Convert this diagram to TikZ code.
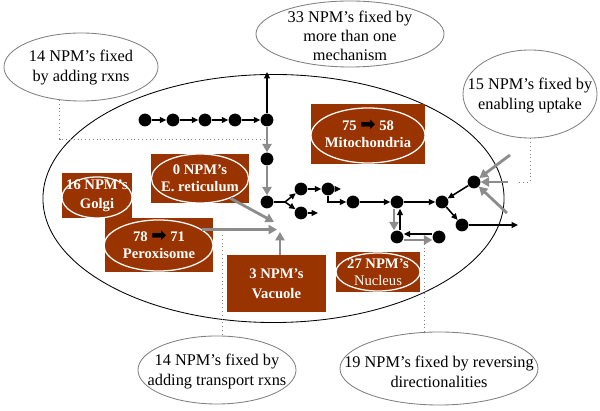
\documentclass[tikz,border=0pt]{standalone}
\usepackage{fontspec}
\setmainfont{Liberation Serif}
\newfontfamily\arrowfont{DejaVu Sans}
\usetikzlibrary{shapes.geometric,arrows.meta}
\definecolor{organelle}{RGB}{153,51,0}
\definecolor{feedgray}{RGB}{140,140,140}
\definecolor{linegray}{RGB}{128,128,128}
\newcommand{\goesto}{{\arrowfont\fontsize{13}{12}\selectfont\color{black}➡}}

\begin{document}
\begin{tikzpicture}[x=0.025cm,y=-0.025cm,
    dot/.style={circle,fill=black,inner sep=0pt,minimum size=0.32cm},
    flow/.style={-{Triangle[length=4.5pt,width=4pt]},line width=1.1pt},
    feed/.style={-{Triangle[length=6pt,width=6.5pt]},line width=2pt,draw=feedgray},
    compbox/.style={rectangle,fill=organelle,inner sep=0pt,text=white,align=center,
        font=\fontsize{10.4}{12}\selectfont\bfseries},
    ring/.style={ellipse,draw=white,line width=0.9pt,inner sep=0pt},
    callout/.style={ellipse,draw=linegray,fill=white,line width=0.6pt,inner sep=0pt},
    calltext/.style={align=center,font=\fontsize{11.6}{14.2}\selectfont},
    dotline/.style={draw=linegray,dotted,line width=0.7pt},
    cell/.style={ellipse,draw=black,line width=0.6pt,inner sep=0pt}]

\useasboundingbox (0,0) rectangle (600,411);

% cell
\node[cell,minimum width=11.525cm,minimum height=6.2cm] (cell) at (273.5,198.5) {};

% compartments
\node[compbox,minimum width=2.85cm,minimum height=1.5cm] (mito) at (368,134) {75 \goesto{} 58\\Mitochondria};
\node[ring,minimum width=2.85cm,minimum height=1.375cm] (mitoring) at (368,135.5) {};
\node[compbox,minimum width=2.45cm,minimum height=1.225cm] (er) at (200,178.5) {0 NPM’s\\E. reticulum};
\node[ring,minimum width=2.425cm,minimum height=1.225cm] (erring) at (200,178.5) {};
\node[compbox,minimum width=1.75cm,minimum height=1.125cm] (golgi) at (97,195.5) {16 NPM’s\\[1.5pt]Golgi};
\node[ring,minimum width=1.75cm,minimum height=1.025cm] (golgiring) at (97,197.5) {};
\node[compbox,minimum width=2.7cm,minimum height=1.35cm] (px) at (159,245) {78 \goesto{} 71\\Peroxisome};
\node[ring,minimum width=2.725cm,minimum height=1.275cm] (pxring) at (158.5,245.5) {};
\node[compbox,minimum width=2.475cm,minimum height=1.425cm] (vac) at (276.5,283.5) {3 NPM’s\\[2pt]Vacuole};
\node[compbox,minimum width=2.1cm,minimum height=1cm] (nucl) at (378,272) {27 NPM’s\\\mdseries Nucleus};
\node[ring,minimum width=2.1cm,minimum height=0.95cm] (nuclring) at (378,272) {};

% network
\node[dot] (n1) at (145,120) {};
\node[dot] (n2) at (173,120) {};
\node[dot] (n3) at (205,120) {};
\node[dot] (n4) at (235,120) {};
\node[dot] (n5) at (267,120) {};
\node[dot] (n6) at (267,159) {};
\node[dot] (n7) at (267,202) {};
\node[dot] (n8) at (301,189) {};
\node[dot] (n9) at (301,213) {};
\node[dot] (n10) at (328,189) {};
\node[dot] (n11) at (353,202) {};
\node[dot] (n12) at (397,202) {};
\node[dot] (n13) at (442,202) {};
\node[dot] (n14) at (397,237) {};
\node[dot] (n15) at (439,237) {};
\node[dot] (n16) at (474,182) {};
\node[dot] (n17) at (462,225) {};

\coordinate (top) at (267,72);
\coordinate (fork) at (285,202);
\coordinate (n9out) at (318,213);
\coordinate (n10out) at (341,189);
\coordinate (n17out) at (518,225);

\draw[flow] (n1) -- (n2);
\draw[flow] (n2) -- (n3);
\draw[flow] (n3) -- (n4);
\draw[flow] (n4) -- (n5);
\draw[flow] (n5) -- (top);
\draw[feed] (n5) -- (n6);
\draw[feed] (n6) -- (n7);
\draw[line width=1.1pt] (n7) -- (fork);
\draw[flow] (fork) -- (n8);
\draw[flow] (fork) -- (n9);
\draw[flow] (n9) -- (n9out);
\draw[flow] (n8) -- (n10);
\draw[flow] (n10) -- (n10out);
\draw[flow] (n10) |- (n11);
\draw[flow] (n11) -- (n12);
\draw[flow] (n12) -- (n13);
\draw[flow] (n16) -- (n13);
\draw[flow] (n13) -- (n17);
\draw[flow] (n17) -- (n17out);
\draw[feed] ([xshift=-0.075cm]n12.south) -- ([xshift=-0.075cm]n14.north);
\draw[flow] ([xshift=0.075cm]n14.north) -- ([xshift=0.075cm]n12.south);
\draw[flow] ([yshift=0.075cm]n15.west) -- ([yshift=0.075cm]n14.east);
\draw[feed] ([yshift=-0.075cm]n14.east) -- ([yshift=-0.075cm]n15.west);

% uptake
\coordinate (up1) at (510,155);
\coordinate (up2) at (508,182);
\coordinate (up3) at (507,213);
\draw[feed] (up1) -- (n16);
\draw[feed] (up2) -- (n16);
\draw[feed] (up3) -- (n16);

% transport
\coordinate (erend) at (274,222);
\coordinate (pxend) at (277,229);
\coordinate (vcend) at (280,232);
\draw[feed] (erring.-33) -- (erend);
\draw[feed] (pxring.20) -- (pxring.20 -| pxend);
\draw[feed] (vac.north -| vcend) -- (vcend);

% callouts
\node[callout,minimum width=3.85cm,minimum height=1.7cm] (rxn) at (81,67) {};
\node[calltext] (rxntxt) at (81,68) {14 NPM’s fixed\\by adding rxns};
\node[callout,minimum width=4.7cm,minimum height=1.65cm] (multi) at (350,34) {};
\node[calltext,font=\fontsize{11.6}{13.5}\selectfont] (multitxt) at (350,36) {33 NPM’s fixed by\\more than one\\mechanism};
\node[callout,minimum width=3.35cm,minimum height=2.2cm] (upt) at (530,94) {};
\node[calltext] (upttxt) at (530,96) {15 NPM’s fixed by\\enabling uptake};
\node[callout,minimum width=3.95cm,minimum height=1.7cm] (tr) at (217,370) {};
\node[calltext] (trtxt) at (217,372) {14 NPM’s fixed by\\adding transport rxns};
\node[callout,minimum width=4.95cm,minimum height=1.825cm] (rev) at (439,368.5) {};
\node[calltext] (revtxt) at (439,372) {19 NPM’s fixed by reversing\\directionalities};

\coordinate (rxnend) at (265,139);
\coordinate (uptend) at (517,182);
\coordinate (trstart) at (222,235);
\coordinate (revstart) at (424,240);
\draw[dotline] (rxn.237) |- (rxnend);
\draw[dotline] (upt.south) |- (uptend);
\draw[dotline] (trstart) -- (trstart |- tr.north);
\draw[dotline] (revstart) -- (revstart |- rev.north);
\end{tikzpicture}
\end{document}
